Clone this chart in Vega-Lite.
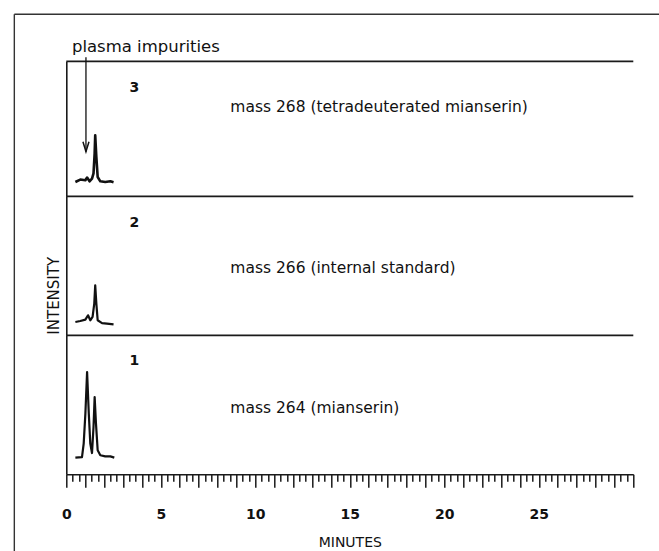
{
  "$schema": "https://vega.github.io/schema/vega-lite/v6.json",
  "padding": {"left": 13.3, "top": 13.3, "right": 0, "bottom": 0},
  "background": "white",
  "bounds": "flush",
  "spacing": 0,
  "config": {
    "view": {"stroke": null},
    "font": "DejaVu Sans",
    "axis": {"grid": false, "domainColor": "#1a1a1a", "domainWidth": 1.6},
    "axisY": {"ticks": false, "labels": false, "domain": true}
  },
  "vconcat": [
    {
      "width": 567,
      "height": 135,
      "layer": [
        {
          "data": {"values": [
            {"minutes": 0.48, "intensity": 10.6}, {"minutes": 0.74, "intensity": 12.4},
            {"minutes": 1.01, "intensity": 11.9}, {"minutes": 1.10, "intensity": 13.9},
            {"minutes": 1.23, "intensity": 11.1}, {"minutes": 1.36, "intensity": 13.1},
            {"minutes": 1.44, "intensity": 17.0}, {"minutes": 1.50, "intensity": 31.9},
            {"minutes": 1.53, "intensity": 45.2}, {"minutes": 1.59, "intensity": 29.1},
            {"minutes": 1.66, "intensity": 14.3}, {"minutes": 1.80, "intensity": 11.1},
            {"minutes": 2.06, "intensity": 10.6}, {"minutes": 2.33, "intensity": 11.1},
            {"minutes": 2.50, "intensity": 10.4}
          ]},
          "mark": {"type": "line", "color": "#111", "strokeWidth": 2.6, "strokeJoin": "round"},
          "encoding": {
            "x": {"field": "minutes", "type": "quantitative", "scale": {"domain": [0, 30], "nice": false}, "axis": null},
            "y": {"field": "intensity", "type": "quantitative", "scale": {"domain": [0, 100], "nice": false}, "axis": {"title": null, "domain": true, "ticks": false, "labels": false}}
          }
        },
        {
          "data": {"values": [{}]},
          "mark": {"type": "rule", "color": "#333", "strokeWidth": 1.4},
          "encoding": {
            "x": {"datum": -2.75, "type": "quantitative"},
            "x2": {"datum": 32},
            "y": {"datum": 134.8, "type": "quantitative"}
          }
        },
        {
          "data": {"values": [{}]},
          "mark": {"type": "rule", "color": "#333", "strokeWidth": 1.4},
          "encoding": {
            "x": {"datum": -2.75, "type": "quantitative"},
            "y": {"datum": 134.8, "type": "quantitative"},
            "y2": {"datum": -263}
          }
        },
        {
          "data": {"values": [{}]},
          "mark": {"type": "rule", "color": "#1a1a1a", "strokeWidth": 1.8},
          "encoding": {
            "y": {"datum": 100, "type": "quantitative"}
          }
        },
        {
          "data": {"values": [{"minutes": 1.04, "top": 103, "tip": 33}]},
          "mark": {"type": "rule", "color": "#111", "strokeWidth": 1.3},
          "encoding": {
            "x": {"field": "minutes", "type": "quantitative"},
            "y": {"field": "top", "type": "quantitative"},
            "y2": {"field": "tip"}
          }
        },
        {
          "data": {"values": [{"minutes": 1.04, "tip": 33}]},
          "mark": {"type": "point", "shape": "M-1.5,-5L0,0L1.5,-5", "size": 16, "filled": false, "color": "#111", "strokeWidth": 1.5, "opacity": 1},
          "encoding": {
            "x": {"field": "minutes", "type": "quantitative"},
            "y": {"field": "tip", "type": "quantitative"}
          }
        },
        {
          "data": {"values": [{"minutes": 0.30, "intensity": 110.4, "label": "plasma impurities"}]},
          "mark": {"type": "text", "align": "left", "baseline": "middle", "fontSize": 16.5, "color": "#111"},
          "encoding": {
            "x": {"field": "minutes", "type": "quantitative"},
            "y": {"field": "intensity", "type": "quantitative"},
            "text": {"field": "label"}
          }
        },
        {
          "data": {"values": [{"minutes": 3.6, "intensity": 80.5, "label": "3"}]},
          "mark": {"type": "text", "align": "center", "baseline": "middle", "fontSize": 14, "fontWeight": "bold", "color": "#111"},
          "encoding": {
            "x": {"field": "minutes", "type": "quantitative"},
            "y": {"field": "intensity", "type": "quantitative"},
            "text": {"field": "label"}
          }
        },
        {
          "data": {"values": [{"minutes": 8.68, "intensity": 65.9, "label": "mass 268 (tetradeuterated mianserin)"}]},
          "mark": {"type": "text", "align": "left", "baseline": "middle", "fontSize": 15.5, "color": "#111"},
          "encoding": {
            "x": {"field": "minutes", "type": "quantitative"},
            "y": {"field": "intensity", "type": "quantitative"},
            "text": {"field": "label"}
          }
        }
      ]
    },
    {
      "width": 567,
      "height": 139,
      "layer": [
        {
          "data": {"values": [
            {"minutes": 0.48, "intensity": 9.6}, {"minutes": 0.74, "intensity": 10.3},
            {"minutes": 1.01, "intensity": 11.3}, {"minutes": 1.15, "intensity": 14.4},
            {"minutes": 1.27, "intensity": 10.8}, {"minutes": 1.39, "intensity": 13.2},
            {"minutes": 1.48, "intensity": 22.8}, {"minutes": 1.53, "intensity": 36.0},
            {"minutes": 1.59, "intensity": 22.8}, {"minutes": 1.66, "intensity": 10.8},
            {"minutes": 1.89, "intensity": 8.8}, {"minutes": 2.15, "intensity": 8.4},
            {"minutes": 2.50, "intensity": 7.9}
          ]},
          "mark": {"type": "line", "color": "#111", "strokeWidth": 2.2, "strokeJoin": "round"},
          "encoding": {
            "x": {"field": "minutes", "type": "quantitative", "scale": {"domain": [0, 30], "nice": false}, "axis": null},
            "y": {"field": "intensity", "type": "quantitative", "scale": {"domain": [0, 100], "nice": false},
              "axis": {"domain": true, "ticks": false, "labels": false, "title": "INTENSITY", "titleFontSize": 15, "titleFontWeight": "normal", "titleColor": "#111", "titleAngle": 270, "titleBaseline": "alphabetic", "titleAlign": "center", "titleX": -8, "titleY": 99}}
          }
        },
        {
          "data": {"values": [{}]},
          "mark": {"type": "rule", "color": "#1a1a1a", "strokeWidth": 1.8},
          "encoding": {
            "y": {"datum": 100, "type": "quantitative"}
          }
        },
        {
          "data": {"values": [{"minutes": 3.6, "intensity": 80.8, "label": "2"}]},
          "mark": {"type": "text", "align": "center", "baseline": "middle", "fontSize": 14, "fontWeight": "bold", "color": "#111"},
          "encoding": {
            "x": {"field": "minutes", "type": "quantitative"},
            "y": {"field": "intensity", "type": "quantitative"},
            "text": {"field": "label"}
          }
        },
        {
          "data": {"values": [{"minutes": 8.68, "intensity": 48.2, "label": "mass 266 (internal standard)"}]},
          "mark": {"type": "text", "align": "left", "baseline": "middle", "fontSize": 15.5, "color": "#111"},
          "encoding": {
            "x": {"field": "minutes", "type": "quantitative"},
            "y": {"field": "intensity", "type": "quantitative"},
            "text": {"field": "label"}
          }
        }
      ]
    },
    {
      "width": 567,
      "height": 139,
      "layer": [
        {
          "data": {"values": [
            {"minutes": 0.48, "intensity": 12.0}, {"minutes": 0.83, "intensity": 12.4},
            {"minutes": 0.92, "intensity": 22.1}, {"minutes": 1.01, "intensity": 43.7},
            {"minutes": 1.10, "intensity": 73.6}, {"minutes": 1.19, "intensity": 43.7},
            {"minutes": 1.27, "intensity": 22.1}, {"minutes": 1.36, "intensity": 15.3},
            {"minutes": 1.44, "intensity": 34.0}, {"minutes": 1.50, "intensity": 55.6},
            {"minutes": 1.57, "intensity": 36.5}, {"minutes": 1.66, "intensity": 17.3},
            {"minutes": 1.80, "intensity": 13.7}, {"minutes": 2.06, "intensity": 12.9},
            {"minutes": 2.33, "intensity": 12.9}, {"minutes": 2.54, "intensity": 12.0}
          ]},
          "mark": {"type": "line", "color": "#111", "strokeWidth": 2.2, "strokeJoin": "round"},
          "encoding": {
            "x": {"field": "minutes", "type": "quantitative", "scale": {"domain": [0, 30], "nice": false},
              "axis": {
                "title": "MINUTES", "titleFontSize": 14, "titleFontWeight": "normal", "titleColor": "#111", "titlePadding": 14,
                "tickCount": 200,
                "values": [0,0.333,0.667,1,1.333,1.667,2,2.333,2.667,3,3.333,3.667,4,4.333,4.667,5,5.333,5.667,6,6.333,6.667,7,7.333,7.667,8,8.333,8.667,9,9.333,9.667,10,10.333,10.667,11,11.333,11.667,12,12.333,12.667,13,13.333,13.667,14,14.333,14.667,15,15.333,15.667,16,16.333,16.667,17,17.333,17.667,18,18.333,18.667,19,19.333,19.667,20,20.333,20.667,21,21.333,21.667,22,22.333,22.667,23,23.333,23.667,24,24.333,24.667,25,25.333,25.667,26,26.333,26.667,27,27.333,27.667,28,28.333,28.667,29,29.333,29.667,30],
                "tickSize": {"condition": {"test": "abs(datum.value - round(datum.value)) < 0.01", "value": 13}, "value": 7},
                "tickColor": "#1a1a1a", "tickWidth": 1.5,
                "labelExpr": "(abs(datum.value - round(datum.value)) < 0.01 && round(datum.value) % 5 === 0 && datum.value < 29) ? ('' + round(datum.value)) : ''",
                "labelOverlap": false, "labelFlush": false,
                "labelFontSize": 14, "labelFontWeight": "bold", "labelColor": "#111", "labelPadding": 20
              }},
            "y": {"field": "intensity", "type": "quantitative", "scale": {"domain": [0, 100], "nice": false}, "axis": {"title": null, "domain": true, "ticks": false, "labels": false}}
          }
        },
        {
          "data": {"values": [{}]},
          "mark": {"type": "rule", "color": "#1a1a1a", "strokeWidth": 1.8},
          "encoding": {
            "y": {"datum": 100, "type": "quantitative"}
          }
        },
        {
          "data": {"values": [{"minutes": 3.6, "intensity": 81.5, "label": "1"}]},
          "mark": {"type": "text", "align": "center", "baseline": "middle", "fontSize": 14, "fontWeight": "bold", "color": "#111"},
          "encoding": {
            "x": {"field": "minutes", "type": "quantitative"},
            "y": {"field": "intensity", "type": "quantitative"},
            "text": {"field": "label"}
          }
        },
        {
          "data": {"values": [{"minutes": 8.68, "intensity": 47.5, "label": "mass 264 (mianserin)"}]},
          "mark": {"type": "text", "align": "left", "baseline": "middle", "fontSize": 15.5, "color": "#111"},
          "encoding": {
            "x": {"field": "minutes", "type": "quantitative"},
            "y": {"field": "intensity", "type": "quantitative"},
            "text": {"field": "label"}
          }
        }
      ]
    }
  ]
}
